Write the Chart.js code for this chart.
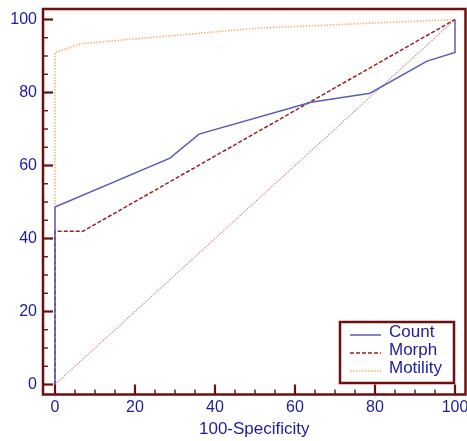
<!DOCTYPE html>
<html><head><meta charset="utf-8">
<script src="https://cdn.jsdelivr.net/npm/chart.js@4.4.0/dist/chart.umd.min.js"></script>
<style>html,body{margin:0;padding:0;background:#fff}#wrap{width:467px;height:441px;position:relative}</style>
</head><body><div id="wrap"><canvas id="c" width="467" height="441"></canvas></div>
<script>
const xTicks = [0, 20, 40, 60, 80, 100];
const yTicks = [0, 20, 40, 60, 80, 100];
const countX = [0, 0, 28.75, 36, 64, 78.75, 93, 100, 100];
const countY = [0, 48.6, 62, 68.6, 77.3, 79.8, 88.6, 91, 100];
const morphX = [0, 0, 7, 100];
const morphY = [0, 42, 42, 100];
const motX = [0, 0, 6.8, 50, 100];
const motY = [0, 91, 93.4, 97.6, 100];
const refX = [0, 100];
const refY = [0, 100];
const seriesNames = ['Count', 'Morph', 'Motility'];
const xTitle = '100-Specificity';

const MAROON = '#6e0e0e';
const BLUE = '#1c1c9c';
const pts = (xs, ys) => xs.map((x, i) => ({x: x, y: ys[i]}));

const styles = [
  {color: '#5a5cb8', width: 1.5, dash: []},
  {color: '#9a2020', width: 1.5, dash: [4, 2]},
  {color: '#f7b276', width: 1.6, dash: [1.5, 1.5]}
];

const framePlugin = {
  id: 'framePlugin',
  afterDraw(chart) {
    const ctx = chart.ctx, a = chart.chartArea;
    const xs = chart.scales.x, ys = chart.scales.y;
    ctx.save();
    ctx.strokeStyle = MAROON;
    for (let v = 0; v <= 100; v += 5) {
      const major = v % 20 === 0;
      const len = major ? 10 : 5;
      ctx.lineWidth = major ? 2.2 : 1.4;
      const px = xs.getPixelForValue(v);
      ctx.beginPath(); ctx.moveTo(px, a.bottom); ctx.lineTo(px, a.bottom - len); ctx.stroke();
      const py = ys.getPixelForValue(v);
      ctx.beginPath(); ctx.moveTo(a.left, py); ctx.lineTo(a.left + len, py); ctx.stroke();
    }
    ctx.lineWidth = 2.5;
    ctx.strokeRect(a.left, a.top, a.right - a.left, a.bottom - a.top);
    const bx = a.right - 125.5, by = a.bottom - 72.5, bw = 114, bh = 61;
    ctx.fillStyle = '#fff';
    ctx.fillRect(bx, by, bw, bh);
    ctx.lineWidth = 2.5;
    ctx.strokeRect(bx, by, bw, bh);
    ctx.font = '17px "Liberation Sans", Arial, sans-serif';
    ctx.textBaseline = 'middle';
    ctx.textAlign = 'left';
    const rows = [10.5, 28.5, 46.5];
    seriesNames.forEach((name, i) => {
      const st = styles[i];
      const ly = by + rows[i] + 2.5;
      ctx.strokeStyle = st.color; ctx.lineWidth = st.width; ctx.setLineDash(st.dash);
      ctx.beginPath(); ctx.moveTo(bx + 10, ly); ctx.lineTo(bx + 41, ly); ctx.stroke();
      ctx.setLineDash([]);
      ctx.fillStyle = BLUE;
      ctx.fillText(name, bx + 49, by + rows[i]);
    });
    ctx.restore();
  }
};

new Chart(document.getElementById('c'), {
  type: 'scatter',
  data: {
    datasets: [
      {label: seriesNames[0], data: pts(countX, countY), borderColor: styles[0].color, borderWidth: styles[0].width, borderDash: styles[0].dash},
      {label: seriesNames[1], data: pts(morphX, morphY), borderColor: styles[1].color, borderWidth: styles[1].width, borderDash: styles[1].dash},
      {label: seriesNames[2], data: pts(motX, motY), borderColor: styles[2].color, borderWidth: styles[2].width, borderDash: styles[2].dash},
      {label: 'ref', data: pts(refX, refY), borderColor: '#c98a8a', borderWidth: 1.2, borderDash: [1.2, 1.3]}
    ].map(d => Object.assign(d, {showLine: true, pointRadius: 0, pointHoverRadius: 0, fill: false, tension: 0}))
  },
  options: {
    responsive: false,
    animation: false,
    devicePixelRatio: 1,
    layout: {padding: {top: 9, right: 1.5, left: 0, bottom: 0}},
    plugins: {legend: {display: false}, tooltip: {enabled: false}},
    scales: {
      x: {
        type: 'linear', min: -3, max: 102.625,
        afterBuildTicks: s => { s.ticks = xTicks.map(v => ({value: v})); },
        afterFit: s => { s.height = 46.5; s.paddingLeft = 0; s.paddingRight = 0; },
        grid: {display: false, drawTicks: false},
        border: {display: false},
        ticks: {color: BLUE, font: {size: 16, family: '"Liberation Sans", Arial, sans-serif'}, padding: 3.5, maxRotation: 0, autoSkip: false},
        title: {display: true, text: xTitle, color: BLUE, font: {size: 17, family: '"Liberation Sans", Arial, sans-serif'}, padding: {top: 0, bottom: 1}}
      },
      y: {
        type: 'linear', min: -2.74, max: 102.877,
        afterBuildTicks: s => { s.ticks = yTicks.map(v => ({value: v})); },
        afterFit: s => { s.width = 43; s.paddingTop = 0; s.paddingBottom = 0; },
        grid: {display: false, drawTicks: false},
        border: {display: false},
        ticks: {color: BLUE, font: {size: 16, family: '"Liberation Sans", Arial, sans-serif'}, padding: 6, autoSkip: false}
      }
    }
  },
  plugins: [framePlugin]
});
</script>
</body></html>
